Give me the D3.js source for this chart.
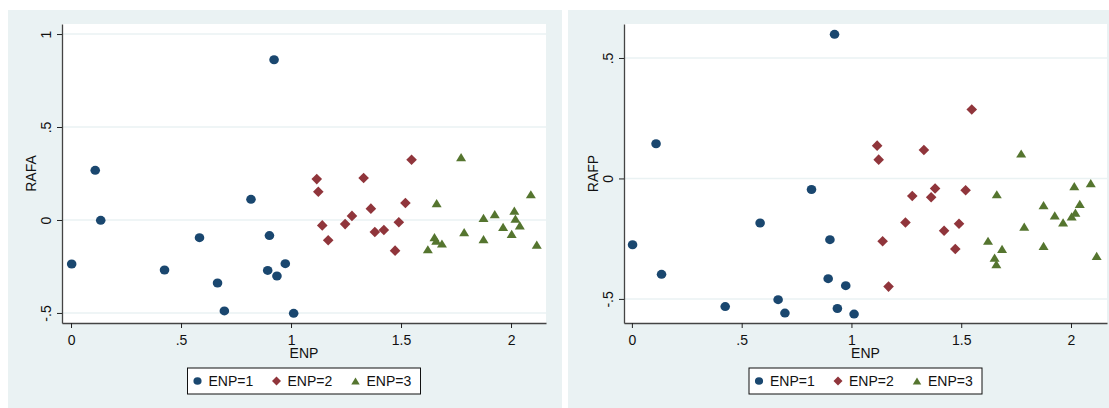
<!DOCTYPE html>
<html>
<head>
<meta charset="utf-8">
<script src="https://cdn.jsdelivr.net/npm/d3@7"></script>
<style>
  body { margin: 0; background: #fff; }
  svg { display: block; font-family: "Liberation Sans", Arial, sans-serif; }
</style>
</head>
<body>
<svg id="the-chart"></svg>
<script>
// Data (same ENP values in both panels)
const group = [
    1, 1, 1, 1, 1, 1, 1, 1, 1, 1, 1, 1, 1, 1,
    2, 2, 2, 2, 2, 2, 2, 2, 2, 2, 2, 2, 2, 2,
    3, 3, 3, 3, 3, 3, 3, 3, 3, 3, 3, 3, 3, 3, 3, 3, 3
];
const enp = [
    0.003, 0.110, 0.135, 0.425, 0.584, 0.666, 0.697, 0.818, 0.902, 0.894, 0.936, 0.974, 1.012, 0.923,
    1.117, 1.124, 1.142, 1.169, 1.246, 1.277, 1.330, 1.363, 1.381, 1.422, 1.473, 1.490, 1.520, 1.548,
    1.622, 1.652, 1.660, 1.662, 1.686, 1.773, 1.787, 1.875, 1.875, 1.926, 1.964, 2.003, 2.015, 2.020, 2.040, 2.090, 2.117
];
const rafa = [
    -0.237, 0.267, -0.002, -0.269, -0.095, -0.339, -0.489, 0.111, -0.084, -0.271, -0.301, -0.235, -0.502, 0.862,
    0.220, 0.152, -0.029, -0.109, -0.022, 0.022, 0.226, 0.061, -0.065, -0.054, -0.165, -0.012, 0.091, 0.324,
    -0.158, -0.093, -0.111, 0.090, -0.127, 0.337, -0.066, -0.104, 0.011, 0.031, -0.038, -0.075, 0.050, 0.007, -0.029, 0.138, -0.133
];
const rafp = [
    -0.275, 0.144, -0.398, -0.532, -0.185, -0.503, -0.559, -0.046, -0.254, -0.416, -0.540, -0.445, -0.563, 0.598,
    0.136, 0.078, -0.261, -0.449, -0.183, -0.073, 0.118, -0.078, -0.042, -0.217, -0.293, -0.188, -0.049, 0.286,
    -0.259, -0.329, -0.356, -0.066, -0.293, 0.103, -0.200, -0.280, -0.111, -0.154, -0.183, -0.158, -0.032, -0.142, -0.106, -0.020, -0.322
];
const legendLabels = ["ENP=1", "ENP=2", "ENP=3"];
const xTicks = [0, 0.5, 1, 1.5, 2];
const rafaTicks = [-0.5, 0, 0.5, 1];
const rafpTicks = [-0.5, 0, 0.5];

const width = 1109;
const height = 408;
const bg = "#eaf2f3";
const color = d3.scaleOrdinal([1, 2, 3], ["#1a476f", "#90353b", "#55752f"]);

// stata style: ".5" instead of "0.5"
const fmt = v => String(v).replace(/^(-?)0\./, "$1.");

const svg = d3.select("#the-chart")
    .attr("width", width)
    .attr("height", height)
    .attr("viewBox", [0, 0, width, height]);

function marker(sel, g, k) {
    if (g === 1) {
        sel.append("ellipse").attr("rx", 4.8 * k).attr("ry", 4.5 * k);
    } else if (g === 2) {
        const s = 5.3 * k;
        sel.append("path").attr("d", `M0,${-s}L${s},0L0,${s}L${-s},0Z`);
    } else {
        sel.append("path").attr("d", `M0,${-4.2 * k}L${5 * k},${4 * k}L${-5 * k},${4 * k}Z`);
    }
}

function drawPanel(p) {
    // outer graph region
    svg.append("rect")
        .attr("x", p.bx0).attr("y", 10)
        .attr("width", p.bx1 - p.bx0).attr("height", height - 10)
        .attr("fill", bg);

    const x = d3.scaleLinear().domain(p.xDomain).range([p.left, p.right]);
    const y = d3.scaleLinear().domain(p.yDomain).range([p.bottom, p.top]);

    svg.append("rect")
        .attr("x", p.left).attr("y", p.top)
        .attr("width", p.right - p.left).attr("height", p.bottom - p.top)
        .attr("fill", "#fff");

    // grid lines
    svg.append("g")
        .selectAll("line")
        .data(p.yTicks)
        .join("line")
            .attr("x1", p.left).attr("x2", p.right)
            .attr("y1", d => y(d)).attr("y2", d => y(d))
            .attr("stroke", bg)
            .attr("stroke-width", 1.5);

    // axes
    const xAxis = svg.append("g")
        .attr("transform", `translate(0,${p.bottom})`)
        .call(d3.axisBottom(x).tickValues(xTicks).tickFormat(fmt).tickSize(5).tickSizeOuter(0));
    xAxis.select(".domain").attr("stroke", "#444").attr("stroke-width", 1.3);
    xAxis.selectAll(".tick line").attr("stroke", "#222");
    xAxis.selectAll("text")
        .attr("y", 22).attr("dy", null)
        .attr("font-size", 14).attr("fill", "#111")
        .attr("font-family", "Liberation Sans, Arial, sans-serif");

    const yAxis = svg.append("g")
        .attr("transform", `translate(${p.left},0)`)
        .call(d3.axisLeft(y).tickValues(p.yTicks).tickFormat(fmt).tickSize(5).tickSizeOuter(0));
    yAxis.select(".domain").attr("stroke", "#444").attr("stroke-width", 1.3);
    yAxis.selectAll(".tick line").attr("stroke", "#222");
    yAxis.selectAll("text")
        .attr("transform", "rotate(-90)")
        .attr("x", 0).attr("y", -11).attr("dy", null)
        .attr("text-anchor", "middle")
        .attr("font-size", 14).attr("fill", "#111")
        .attr("font-family", "Liberation Sans, Arial, sans-serif");

    // axis titles
    svg.append("text")
        .attr("x", (p.left + p.right) / 2).attr("y", p.bottom + 35)
        .attr("text-anchor", "middle")
        .attr("font-size", 14).attr("fill", "#111")
        .text("ENP");
    svg.append("text")
        .attr("transform", `translate(${p.left - 26},${(p.top + p.bottom) / 2}) rotate(-90)`)
        .attr("text-anchor", "middle")
        .attr("font-size", 14).attr("fill", "#111")
        .text(p.yTitle);

    // points, drawn group by group
    const idx = d3.range(enp.length);
    [1, 2, 3].forEach(g => {
        const gPts = svg.append("g").attr("fill", color(g));
        idx.filter(i => group[i] === g).forEach(i => {
            const m = gPts.append("g")
                .attr("transform", `translate(${x(enp[i])},${y(p.values[i])})`);
            marker(m, g, 1);
        });
    });

    // legend
    const lx = (p.left + p.right) / 2 - 116.5;
    const legend = svg.append("g").attr("transform", `translate(${lx},368)`);
    legend.append("rect")
        .attr("x", 0).attr("y", 0).attr("width", 233).attr("height", 26)
        .attr("fill", "#fff").attr("stroke", "#111").attr("stroke-width", 1);
    legendLabels.forEach((lab, j) => {
        const m = legend.append("g")
            .attr("transform", `translate(${10 + j * 79},13)`)
            .attr("fill", color(j + 1));
        marker(m, j + 1, 0.85);
        legend.append("text")
            .attr("x", 21 + j * 79).attr("y", 18)
            .attr("font-size", 14).attr("fill", "#111")
            .text(lab);
    });
}

drawPanel({
    bx0: 8, bx1: 562,
    left: 62, right: 546, top: 24, bottom: 323,
    xDomain: [-0.041, 2.159],
    yDomain: [-0.554, 1.054],
    yTicks: rafaTicks,
    yTitle: "RAFA",
    values: rafa
});

drawPanel({
    bx0: 568, bx1: 1109,
    left: 624, right: 1107, top: 24, bottom: 323,
    xDomain: [-0.036, 2.164],
    yDomain: [-0.600, 0.641],
    yTicks: rafpTicks,
    yTitle: "RAFP",
    values: rafp
});
</script>
</body>
</html>
